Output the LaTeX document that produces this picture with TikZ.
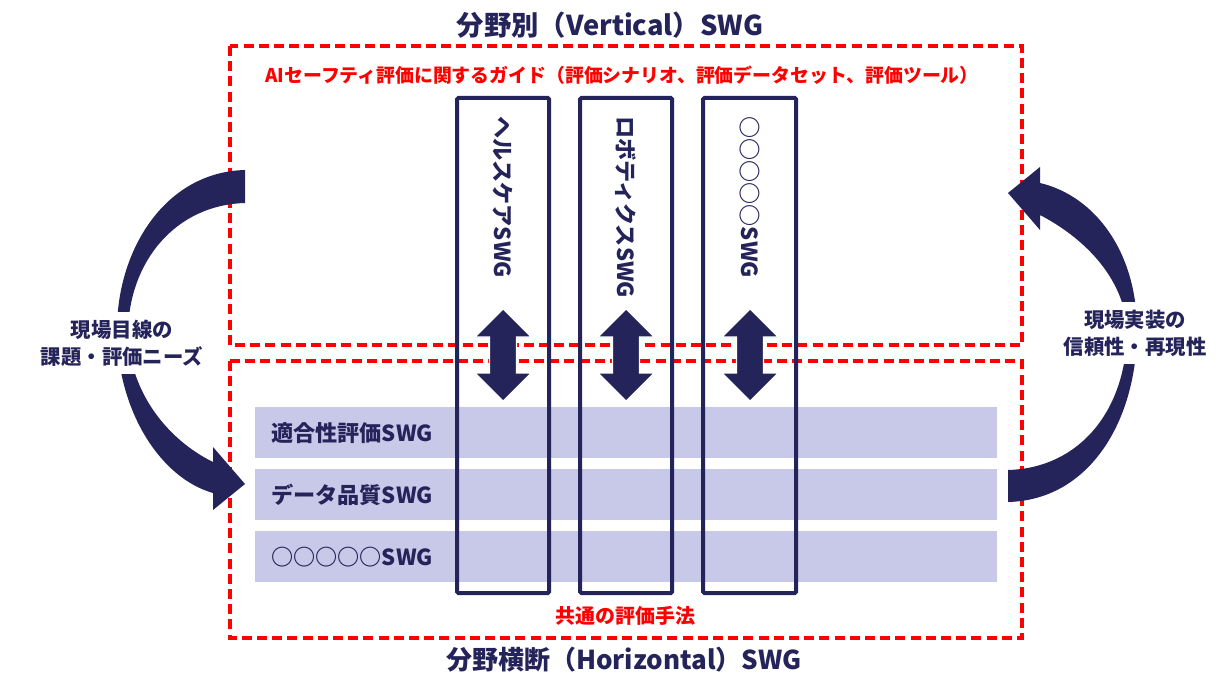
\documentclass[tikz,border=0pt]{standalone}
\usepackage{fontspec}
\setmainfont{Noto Sans CJK JP}
\definecolor{navy}{HTML}{24245A}
\definecolor{lav}{HTML}{C8C8E9}
\definecolor{rred}{HTML}{FF0000}
\begin{document}
\begin{tikzpicture}[x=0.75pt,y=-0.75pt,
  zone/.style={draw=rred, line width=2.3pt, dash pattern=on 7.5pt off 3.9pt},
  bar/.style={fill=lav, draw=none},
  swgbox/.style={draw=navy, line width=3pt, rounded corners=1pt},
  dblarr/.style={fill=navy, draw=white, line width=0.8pt},
  crescent/.style={fill=navy, draw=none},
  title/.style={font=\fontsize{19.5}{22}\selectfont\bfseries, text=navy, inner sep=0pt},
  redlabel/.style={font=\fontsize{14.15}{16}\selectfont\bfseries, text=rred, inner sep=0pt},
  barlabel/.style={font=\fontsize{16.6}{18}\selectfont\bfseries, text=navy, inner sep=0pt, anchor=west},
  vlabel/.style={font=\fontsize{16.6}{18}\selectfont\bfseries, text=navy, inner sep=0pt, rotate=-90, anchor=west},
  sidelabel/.style={font=\fontsize{15.3}{20.5}\selectfont\bfseries, text=navy, fill=white, align=center, inner xsep=2pt, inner ysep=6pt}
]
\useasboundingbox (0,0) rectangle (1224,677);
\fill[white] (0,0) rectangle (1224,677);

% zones
\draw[zone] (230,46) rectangle (1022,345);
\draw[zone] (230,361) rectangle (1022,638);

% bars
\fill[bar] (255,407) rectangle (997,458);
\fill[bar] (255,469) rectangle (997,520);
\fill[bar] (255,531) rectangle (997,582);

% vertical SWG boxes
\draw[swgbox] (457,98) rectangle (549,593);
\draw[swgbox] (580,98) rectangle (672,593);
\draw[swgbox] (703,98) rectangle (796,593);

% double arrows
\foreach \cx in {503,626,750}{
  \draw[dblarr] (\cx,309) -- (\cx+28,337) -- (\cx+13.5,337) -- (\cx+13.5,373) -- (\cx+28,373)
    -- (\cx,401) -- (\cx-28,373) -- (\cx-13.5,373) -- (\cx-13.5,337) -- (\cx-28,337) -- cycle;
}

% left curved arrow
\fill[crescent] (245,170) .. controls (165,172) and (117,250) .. (117,330)
  .. controls (117,410) and (160,478) .. (213,493)
  -- (213,510) -- (245,484) -- (213,447) -- (213,462)
  .. controls (168,440) and (129,392) .. (128,332)
  .. controls (129,262) and (175,205) .. (245,203) -- cycle;

% right curved arrow
\fill[crescent] (1008,502) .. controls (1090,500) and (1137,420) .. (1137,330)
  .. controls (1137,252) and (1095,196) .. (1040,183)
  -- (1040,167) -- (1008,193) -- (1040,230) -- (1040,215)
  .. controls (1088,240) and (1126,282) .. (1127,332)
  .. controls (1126,410) and (1080,468) .. (1008,470) -- cycle;

% side labels
\node[sidelabel] (lneeds) at (122,343) {現場目線の\\課題・評価ニーズ};
\node[sidelabel] (rrepro) at (1135,333) {現場実装の\\信頼性・再現性};

% titles
\node[title, font=\fontsize{20.5}{22}\selectfont\bfseries] (vtitle) at (610,25) {分野別（Vertical）SWG};
\node[title] (htitle) at (624,660) {分野横断（Horizontal）SWG};
\node[redlabel] (guide) at (622,75) {AIセーフティ評価に関するガイド（評価シナリオ、評価データセット、評価ツール）};
\node[redlabel, font=\fontsize{15}{17}\selectfont\bfseries] (common) at (625,616) {共通の評価手法};

% bar labels
\node[barlabel] (b1) at (271,433) {適合性評価SWG};
\node[barlabel] (b2) at (271,495) {データ品質SWG};
\node[barlabel] (b3) at (271,557) {○○○○○SWG};

% vertical labels
\node[vlabel] (v1) at (503,116) {ヘルスケアSWG};
\node[vlabel] (v2) at (626,116) {ロボティクスSWG};
\node[vlabel] (v3) at (750,116) {○○○○○SWG};
\end{tikzpicture}
\end{document}
